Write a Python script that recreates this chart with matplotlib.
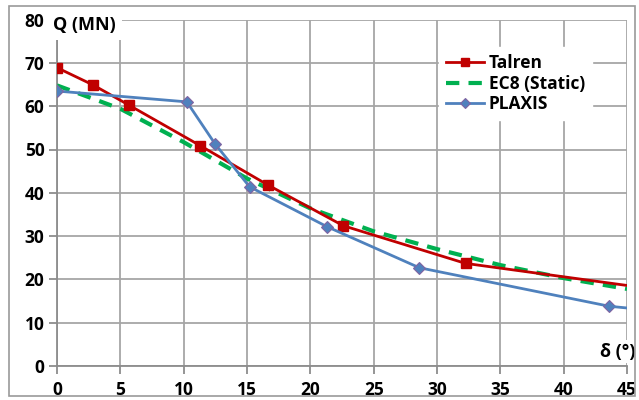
import matplotlib.pyplot as plt
from matplotlib.patches import Rectangle

# data
talren_x = [0, 2.85, 5.65, 11.3, 16.65, 22.6, 32.25, 45]
talren_q = [68.9, 64.9, 60.3, 50.9, 41.8, 32.4, 23.7, 18.6]

ec8_x = [0, 5, 10, 15, 20, 25, 30, 35, 40, 45]
ec8_q = [64.8, 59.4, 51.7, 43.3, 36.4, 31.1, 27.0, 23.3, 20.3, 17.8]

plaxis_x = [0, 10.25, 12.5, 15.2, 21.3, 28.6, 43.6, 45]
plaxis_q = [63.5, 61.0, 51.2, 41.4, 32.2, 22.7, 13.8, 13.4]

xticks = [0, 5, 10, 15, 20, 25, 30, 35, 40, 45]
yticks = [0, 10, 20, 30, 40, 50, 60, 70, 80]

plt.rcParams['font.family'] = ['Open Sans', 'DejaVu Sans']
plt.rcParams['font.weight'] = 'bold'

fig = plt.figure(figsize=(6.39, 4.0), dpi=100)
ax = fig.add_axes([57 / 639, 1 - 366 / 400, 570 / 639, (366 - 19.6) / 400])

# outer chart border
fig.patches.append(Rectangle((9 / 639, 4 / 400), 626 / 639, 390 / 400,
                             transform=fig.transFigure, fill=False,
                             edgecolor='#9a9a9a', linewidth=1.2))

# series
ax.plot(ec8_x, ec8_q, color='#00B050', linewidth=3.0, dashes=(3.2, 2.2),
        label='EC8 (Static)', zorder=3)
ax.plot(talren_x[:-1], talren_q[:-1], color='#C00000', linewidth=2.0,
        marker='s', markersize=7.5, label='Talren', zorder=4)
ax.plot(talren_x[-2:], talren_q[-2:], color='#C00000', linewidth=2.0, zorder=4)
ax.plot(plaxis_x[:-1], plaxis_q[:-1], color='#4F81BD', linewidth=2.0,
        marker='D', markersize=6.5, markerfacecolor='#4F81BD',
        markeredgecolor='#8064A2', markeredgewidth=0.8, label='PLAXIS', zorder=5)
ax.plot(plaxis_x[-2:], plaxis_q[-2:], color='#4F81BD', linewidth=2.0, zorder=5)

ax.set_xlim(0, 45)
ax.set_ylim(0, 80)
ax.set_xticks(xticks)
ax.set_yticks(yticks)
ax.grid(True, color='#a6a6a6', linewidth=1.3)
ax.set_axisbelow(True)

for s in ['top', 'right']:
    ax.spines[s].set_visible(False)
ax.spines['left'].set_color('#8c8c8c')
ax.spines['bottom'].set_color('#8c8c8c')
ax.spines['left'].set_linewidth(1.3)
ax.spines['bottom'].set_linewidth(1.3)

ax.tick_params(axis='both', length=6, width=1.3, color='#8c8c8c',
               labelsize=12.5, pad=3)
ax.tick_params(axis='x', pad=5)
for lbl in ax.get_xticklabels() + ax.get_yticklabels():
    lbl.set_fontweight('bold')

# axis titles
ax.text(-0.3, 78.7, 'Q (MN)', fontsize=13, fontweight='bold', ha='left',
        va='center', bbox=dict(facecolor='white', edgecolor='none', pad=4),
        zorder=6, clip_on=False)
ax.text(45.7, 3.3, 'δ (°)', fontsize=13, fontweight='bold', ha='right',
        va='center', bbox=dict(facecolor='white', edgecolor='none', pad=2),
        zorder=6, clip_on=False)

handles, labels = ax.get_legend_handles_labels()
order = [1, 0, 2]
leg = ax.legend([handles[i] for i in order], [labels[i] for i in order],
                loc='upper left', bbox_to_anchor=(0.655, 0.945), frameon=True,
                fancybox=False, edgecolor='white', facecolor='white',
                framealpha=1, prop={'weight': 'bold', 'size': 12.5},
                handlelength=2.2, handletextpad=0.25, labelspacing=0.15,
                borderpad=0.4, markerscale=0.8)
leg.set_zorder(7)

fig.savefig('out.png', dpi=100)
